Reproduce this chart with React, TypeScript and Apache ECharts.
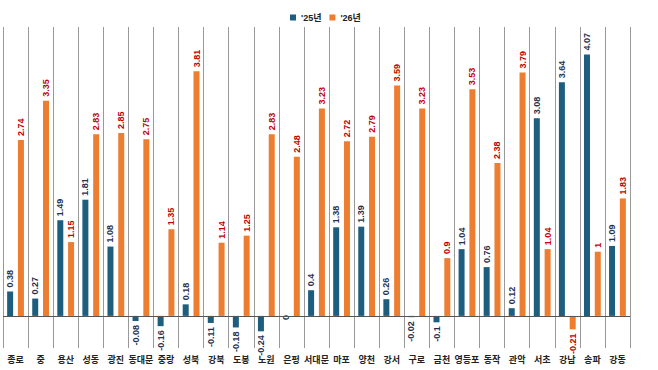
import React, { useEffect, useRef } from "react";
import * as echarts from "echarts";

const categories = ["종로", "중", "용산", "성동", "광진", "동대문", "중랑", "성북", "강북", "도봉", "노원", "은평", "서대문", "마포", "양천", "강서", "구로", "금천", "영등포", "동작", "관악", "서초", "강남", "송파", "강동"];
const values25 = [0.38, 0.27, 1.49, 1.81, 1.08, -0.08, -0.16, 0.18, -0.11, -0.18, -0.24, 0, 0.4, 1.38, 1.39, 0.26, -0.02, -0.1, 1.04, 0.76, 0.12, 3.08, 3.64, 4.07, 1.09];
const values26 = [2.74, 3.35, 1.15, 2.83, 2.85, 2.75, 1.35, 3.81, 1.14, 1.25, 2.83, 2.48, 3.23, 2.72, 2.79, 3.59, 3.23, 0.9, 3.53, 2.38, 3.79, 1.04, -0.21, 1, 1.83];
const seriesNames = ["'25년", "'26년"];

const FONT = "'Liberation Sans', Arial, 'Noto Sans CJK KR', sans-serif";

function toData(vals: number[]) {
  return vals.map((v) => ({
    value: v,
    label: { align: v < 0 ? "right" : "left" },
  }));
}

export default function App() {
  const ref = useRef<HTMLDivElement>(null);
  useEffect(() => {
    document.body.style.margin = "0";
    const chart = echarts.init(ref.current!, null, { renderer: "svg" });
    const labelBase = {
      show: true,
      position: "outside",
      rotate: 90,
      verticalAlign: "middle",
      distance: 4,
      fontSize: 9,
      fontWeight: "bold",
      fontFamily: FONT,
    };
    chart.setOption({
      animation: false,
      backgroundColor: "#fff",
      legend: {
        top: 8,
        left: 285,
        itemWidth: 6,
        itemHeight: 6,
        itemGap: 8,
        icon: "rect",
        textStyle: { fontSize: 9, fontWeight: "bold", color: "#222", fontFamily: FONT },
        data: seriesNames,
      },
      grid: { left: 3, right: 28, top: 27, bottom: 22 },
      xAxis: {
        type: "category",
        data: categories,
        axisLine: { show: false, onZero: false },
        axisTick: { show: false },
        splitLine: { show: true, interval: 0, lineStyle: { color: "#999", width: 1 } },
        axisLabel: {
          interval: 0,
          fontSize: 9,
          fontWeight: "bold",
          color: "#222",
          margin: 7,
          fontFamily: FONT,
        },
      },
      yAxis: {
        type: "value",
        min: -0.5,
        max: 4.5,
        show: false,
        splitLine: { show: false },
      },
      series: [
        {
          name: seriesNames[0],
          type: "bar",
          data: toData(values25),
          barWidth: 6,
          barGap: "80%",
          itemStyle: { color: "#1d5e7f" },
          label: { ...labelBase, color: "#1f3050" },
          markLine: {
            silent: true,
            symbol: "none",
            label: { show: false },
            lineStyle: { color: "#555", width: 1, type: "solid" },
            data: [{ yAxis: 0 }],
          },
        },
        {
          name: seriesNames[1],
          type: "bar",
          data: toData(values26),
          barWidth: 6,
          barGap: "80%",
          itemStyle: { color: "#ed7d31" },
          label: { ...labelBase, color: "#c00000" },
        },
      ],
    });
    return () => chart.dispose();
  }, []);
  return <div ref={ref} style={{ width: 658, height: 370 }} />;
}
